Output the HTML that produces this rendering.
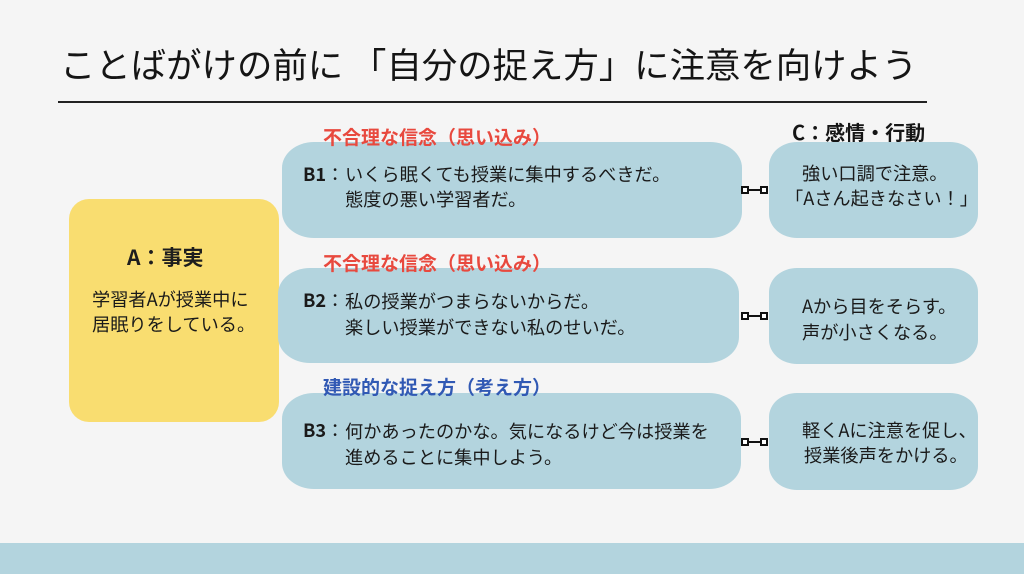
<!DOCTYPE html>
<html><head><meta charset="utf-8">
<style>
*{margin:0;padding:0;box-sizing:border-box}
html,body{width:1024px;height:574px;overflow:hidden;background:#f5f5f5}
body{position:relative;font-family:"Liberation Sans","Noto Sans CJK JP",sans-serif;color:#1e1e1e}
.a{position:absolute;white-space:nowrap}
.title{left:60px;top:44px;font-size:35.4px;line-height:40px;color:#151515;font-family:"Noto Sans CJK JP",sans-serif}
.rule{left:58px;top:101px;width:869px;height:2px;background:#222}
.bar{left:0;top:543px;width:1024px;height:31px;background:#b3d4de}
.ybox{left:69px;top:199px;width:210px;height:223px;background:#f9dd70;border-radius:20px}
.bbox{background:#b3d4de;border-radius:32px/26px}
.cbox{background:#b3d4de;border-radius:28px/24px;left:769px;width:209px}
.t{font-size:18.2px;line-height:25px;font-family:"Noto Sans CJK JP",sans-serif;color:#1a1a1a}
.lab{font-size:19px;line-height:24px;font-weight:bold;font-family:"Noto Sans CJK JP",sans-serif}
.red{color:#e8493e}
.blue{color:#3159b4}
.b{font-weight:bold}
.sq{position:absolute;width:8px;height:8px;border:2px solid #111;background:#fff}
.ln{position:absolute;height:2px;background:#111}
</style></head><body>
<div class="a title">ことばがけの前に 「自分の捉え方」に注意を向けよう</div>
<div class="a rule"></div>

<div class="a ybox"></div>
<div class="a b" style="left:127px;top:244px;font-size:21px;line-height:26px;font-family:'Noto Sans CJK JP',sans-serif">A：事実</div>
<div class="a t" style="left:92px;top:287px">学習者Aが授業中に<br>居眠りをしている。</div>

<!-- B1 -->
<div class="a bbox" style="left:282px;top:142px;width:460px;height:96px"></div>
<div class="a lab red" style="left:323px;top:125px">不合理な信念（思い込み）</div>
<div class="a t b" style="left:303px;top:162px">B1</div>
<div class="a t" style="left:326px;top:162px">：</div>
<div class="a t" style="left:345px;top:162px">いくら眠くても授業に集中するべきだ。<br>態度の悪い学習者だ。</div>

<!-- B2 -->
<div class="a bbox" style="left:278px;top:268px;width:461px;height:95px"></div>
<div class="a lab red" style="left:323px;top:251px">不合理な信念（思い込み）</div>
<div class="a t b" style="left:303px;top:288px">B2</div>
<div class="a t" style="left:326px;top:288px">：</div>
<div class="a t" style="left:345px;top:288px;line-height:26px">私の授業がつまらないからだ。<br>楽しい授業ができない私のせいだ。</div>

<!-- B3 -->
<div class="a bbox" style="left:282px;top:393px;width:459px;height:96px"></div>
<div class="a lab blue" style="left:323px;top:375px">建設的な捉え方（考え方）</div>
<div class="a t b" style="left:303px;top:418px">B3</div>
<div class="a t" style="left:326px;top:418px">：</div>
<div class="a t" style="left:345px;top:418px;line-height:26px">何かあったのかな。気になるけど今は授業を<br>進めることに集中しよう。</div>

<!-- C -->
<div class="a lab" style="left:792px;top:120px;font-size:20px;color:#151515">C：感情・行動</div>
<div class="a cbox" style="top:142px;height:96px"></div>
<div class="a t" style="top:161px;left:802px">強い口調で注意。</div>
<div class="a t" style="top:186px;left:785px">「Aさん起きなさい！」</div>

<div class="a cbox" style="top:268px;height:96px"></div>
<div class="a t" style="top:294px;left:802px">Aから目をそらす。</div>
<div class="a t" style="top:320px;left:802px">声が小さくなる。</div>

<div class="a cbox" style="top:393px;height:97px"></div>
<div class="a t" style="top:418px;left:802px">軽くAに注意を促し、</div>
<div class="a t" style="top:443px;left:804px">授業後声をかける。</div>

<!-- connectors -->
<div class="ln" style="left:748px;top:189px;width:14px"></div>
<div class="sq" style="left:741px;top:186px"></div>
<div class="sq" style="left:760px;top:186px"></div>

<div class="ln" style="left:748px;top:315px;width:14px"></div>
<div class="sq" style="left:741px;top:312px"></div>
<div class="sq" style="left:760px;top:312px"></div>

<div class="ln" style="left:748px;top:441px;width:14px"></div>
<div class="sq" style="left:741px;top:438px"></div>
<div class="sq" style="left:760px;top:438px"></div>

<div class="a bar"></div>
</body></html>
